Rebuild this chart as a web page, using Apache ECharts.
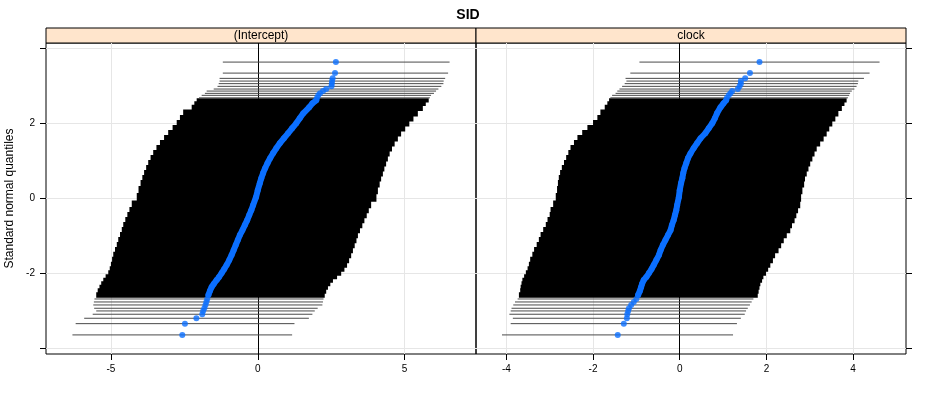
<!DOCTYPE html>
<html><head><meta charset="utf-8">
<script src="https://cdn.jsdelivr.net/npm/echarts@6/dist/echarts.min.js"></script>
<style>html,body{margin:0;padding:0;background:#fff}#c{width:936px;height:396px}</style>
</head><body><div id="c"></div>
<script>
const chartTitle = 'SID';
const panelNames = ['(Intercept)', 'clock'];
const yAxisTitle = 'Standard normal quantiles';
const yTickValues = [-4, -2, 0, 2, 4];
const yLabelValues = [-2, 0, 2];
const interceptTickValues = [-5, 0, 5];
const clockTickValues = [-4, -2, 0, 2, 4];

// standard normal quantiles of the dense body rows (top to bottom)
const bodyQ = [2.621, 2.541, 2.435, 2.275, 2.141, 2.008, 1.875, 1.741, 1.608, 1.475,
  1.341, 1.208, 1.075, 0.941, 0.808, 0.675, 0.541, 0.408, 0.221, 0.035,
  -0.179, -0.312, -0.445, -0.579, -0.712, -0.845, -0.979, -1.112, -1.245, -1.379,
  -1.512, -1.645, -1.779, -1.885, -1.992, -2.099, -2.179, -2.285, -2.365, -2.472, -2.579];
// quantiles of the individually visible extreme rows
const tailQ = [3.643, 3.349, 3.208, 3.136, 3.067, 2.995, 2.923, 2.869, 2.808, 2.755, 2.688,
  -2.685, -2.765, -2.845, -2.933, -3.005, -3.093, -3.200, -3.344, -3.645];

// (Intercept) panel
const interceptBodyLow = [-2.08, -2.16, -2.25, -2.54, -2.65, -2.76, -2.90, -3.05, -3.19, -3.33,
  -3.45, -3.56, -3.65, -3.73, -3.80, -3.87, -3.93, -3.99, -4.06, -4.12,
  -4.29, -4.37, -4.44, -4.51, -4.58, -4.63, -4.69, -4.75, -4.80, -4.86,
  -4.92, -4.96, -5.00, -5.04, -5.09, -5.18, -5.26, -5.33, -5.39, -5.45, -5.50];
const interceptBodyEst = [1.99, 1.86, 1.75, 1.55, 1.43, 1.31, 1.17, 1.03, 0.89, 0.75,
  0.63, 0.52, 0.42, 0.33, 0.25, 0.18, 0.12, 0.07, 0.00, -0.06,
  -0.16, -0.22, -0.29, -0.36, -0.44, -0.52, -0.61, -0.68, -0.75, -0.82,
  -0.89, -0.97, -1.06, -1.14, -1.23, -1.32, -1.40, -1.50, -1.57, -1.63, -1.68];
const interceptBodyHigh = [5.82, 5.72, 5.62, 5.45, 5.30, 5.16, 5.02, 4.88, 4.77, 4.66,
  4.57, 4.49, 4.43, 4.37, 4.31, 4.26, 4.20, 4.15, 4.09, 4.04,
  3.86, 3.78, 3.71, 3.63, 3.56, 3.48, 3.41, 3.36, 3.30, 3.24,
  3.18, 3.11, 3.04, 2.95, 2.84, 2.70, 2.56, 2.47, 2.39, 2.33, 2.28];
const interceptTailLow = [-1.19, -1.19, -1.30, -1.30, -1.33, -1.37, -1.50, -1.74, -1.80, -1.91, -2.00,
  -5.56, -5.58, -5.60, -5.57, -5.50, -5.62, -5.91, -6.20, -6.31];
const interceptTailEst = [2.66, 2.63, 2.55, 2.53, 2.52, 2.51, 2.33, 2.22, 2.12, 2.06, 2.02,
  -1.72, -1.75, -1.78, -1.82, -1.86, -1.89, -2.09, -2.48, -2.57];
const interceptTailHigh = [6.53, 6.48, 6.38, 6.33, 6.32, 6.25, 6.15, 6.07, 6.00, 5.90, 5.86,
  2.24, 2.22, 2.20, 2.04, 1.94, 1.86, 1.74, 1.25, 1.17];

// clock panel
const clockBodyLow = [-1.63, -1.67, -1.73, -1.83, -1.90, -2.00, -2.13, -2.25, -2.36, -2.44,
  -2.52, -2.57, -2.62, -2.67, -2.72, -2.76, -2.79, -2.81, -2.83, -2.86,
  -2.92, -2.98, -3.00, -3.05, -3.09, -3.15, -3.21, -3.25, -3.30, -3.36,
  -3.40, -3.45, -3.48, -3.51, -3.55, -3.59, -3.63, -3.65, -3.67, -3.68, -3.71];
const clockBodyEst = [1.07, 1.01, 0.94, 0.86, 0.81, 0.75, 0.67, 0.59, 0.48, 0.40,
  0.32, 0.25, 0.19, 0.15, 0.11, 0.08, 0.06, 0.03, 0.00, -0.02,
  -0.06, -0.08, -0.11, -0.14, -0.18, -0.21, -0.27, -0.33, -0.39, -0.44,
  -0.48, -0.54, -0.60, -0.65, -0.71, -0.77, -0.83, -0.87, -0.89, -0.92, -0.96];
const clockBodyHigh = [3.85, 3.80, 3.74, 3.66, 3.59, 3.52, 3.45, 3.39, 3.32, 3.24,
  3.16, 3.11, 3.06, 3.01, 2.97, 2.93, 2.89, 2.87, 2.83, 2.80,
  2.78, 2.73, 2.69, 2.65, 2.59, 2.55, 2.47, 2.40, 2.34, 2.28,
  2.20, 2.15, 2.09, 2.04, 1.99, 1.93, 1.90, 1.86, 1.84, 1.82, 1.80];
const clockTailLow = [-0.93, -1.14, -1.25, -1.23, -1.27, -1.33, -1.39, -1.44, -1.48, -1.56, -1.60,
  -3.74, -3.80, -3.84, -3.88, -3.90, -3.93, -3.85, -3.90, -4.10];
const clockTailEst = [1.84, 1.62, 1.51, 1.41, 1.41, 1.38, 1.34, 1.21, 1.17, 1.13, 1.09,
  -1.00, -1.06, -1.12, -1.17, -1.19, -1.21, -1.22, -1.29, -1.43];
const clockTailHigh = [4.61, 4.38, 4.25, 4.12, 4.11, 4.08, 4.03, 3.97, 3.93, 3.91, 3.88,
  1.70, 1.66, 1.62, 1.57, 1.53, 1.50, 1.41, 1.32, 1.23];

const FONT = '"Liberation Sans", Arial, Helvetica, sans-serif';
const BLUE = '#0b6fff';

function bodyRows(low, high) {
  return bodyQ.map((q, i) => [low[i], high[i], q,
    i > 0 ? bodyQ[i - 1] : q, i < bodyQ.length - 1 ? bodyQ[i + 1] : q]);
}
function tailRows(low, high) {
  return tailQ.map((q, i) => [low[i], high[i], q]);
}
function renderBody(params, api) {
  const q = api.value(2);
  const a = api.coord([api.value(0), q]);
  const b = api.coord([api.value(1), q]);
  const yPrev = api.coord([api.value(0), api.value(3)])[1];
  const yNext = api.coord([api.value(0), api.value(4)])[1];
  let up = (a[1] - yPrev) / 2, dn = (yNext - a[1]) / 2;
  if (up <= 0) up = dn;
  if (dn <= 0) dn = up;
  return {type: 'rect', shape: {x: a[0], y: a[1] - up - 0.7, width: b[0] - a[0], height: up + dn + 1.4},
    style: {fill: '#000'}};
}
function renderTail(params, api) {
  const q = api.value(2);
  const a = api.coord([api.value(0), q]);
  const b = api.coord([api.value(1), q]);
  return {type: 'line', shape: {x1: a[0], y1: a[1], x2: b[0], y2: b[1]},
    style: {stroke: '#4a4a4a', lineWidth: 1}};
}
function xAxisFor(gi, min, max, ticks) {
  return {
    type: 'value', gridIndex: gi, min: min, max: max, position: 'bottom',
    axisLine: {show: false, onZero: false},
    axisTick: {show: true, inside: false, length: 6, customValues: ticks, lineStyle: {color: '#000', width: 1}},
    axisLabel: {customValues: ticks, fontSize: 10, color: '#000', margin: 10, fontFamily: FONT},
    splitLine: {show: true, lineStyle: {color: '#e6e6e6', width: 1}}
  };
}
function panelSeries(gi, bLow, bEst, bHigh, tLow, tEst, tHigh) {
  return [
    {type: 'custom', xAxisIndex: gi, yAxisIndex: gi, renderItem: renderBody,
      data: bodyRows(bLow, bHigh), encode: {x: [0, 1], y: 2}, z: 2, silent: true,
      markLine: {silent: true, symbol: ['none', 'none'], label: {show: false}, z: 2,
        lineStyle: {color: '#000', width: 1, type: 'solid'}, data: [{xAxis: 0}]}},
    {type: 'custom', xAxisIndex: gi, yAxisIndex: gi, renderItem: renderTail,
      data: tailRows(tLow, tHigh), encode: {x: [0, 1], y: 2}, z: 2, silent: true},
    {type: 'line', xAxisIndex: gi, yAxisIndex: gi, data: bodyQ.map((q, i) => [bEst[i], q]),
      showSymbol: false, lineStyle: {color: BLUE, width: 6, cap: 'round', join: 'round'}, z: 8, silent: true},
    {type: 'scatter', xAxisIndex: gi, yAxisIndex: gi,
      data: tailQ.map((q, i) => [tEst[i], q]).concat(bodyQ.map((q, i) => [bEst[i], q])),
      symbol: 'circle', symbolSize: 6, itemStyle: {color: BLUE}, z: 9, silent: true}
  ];
}

const chart = echarts.init(document.getElementById('c'), null, {renderer: 'canvas'});
chart.setOption({
  animation: false,
  backgroundColor: '#fff',
  textStyle: {fontFamily: FONT},
  title: {text: chartTitle, left: 'center', top: 3,
    textStyle: {fontSize: 14, fontWeight: 'bold', color: '#000', fontFamily: FONT}},
  grid: [
    {left: 46, top: 43, width: 430, height: 311, show: true, borderColor: '#000', borderWidth: 1, backgroundColor: 'transparent'},
    {left: 476, top: 43, width: 430, height: 311, show: true, borderColor: '#000', borderWidth: 1, backgroundColor: 'transparent'}
  ],
  xAxis: [
    xAxisFor(0, -7.21, 7.43, interceptTickValues),
    xAxisFor(1, -4.70, 5.22, clockTickValues)
  ],
  yAxis: [
    {type: 'value', gridIndex: 0, position: 'left', min: -4.155, max: 4.153,
      axisLine: {show: false, onZero: false},
      axisTick: {show: true, inside: false, length: 6, customValues: yTickValues, lineStyle: {color: '#000'}},
      axisLabel: {customValues: yLabelValues, fontSize: 10, color: '#000', margin: 11, fontFamily: FONT},
      splitLine: {show: true, lineStyle: {color: '#e6e6e6', width: 1}},
      name: yAxisTitle, nameLocation: 'middle', nameGap: 30,
      nameTextStyle: {fontSize: 12, color: '#000', fontFamily: FONT}},
    {type: 'value', gridIndex: 1, position: 'right', min: -4.155, max: 4.153,
      axisLine: {show: false, onZero: false},
      axisTick: {show: true, inside: false, length: 6, customValues: yTickValues, lineStyle: {color: '#000'}},
      axisLabel: {show: false},
      splitLine: {show: true, lineStyle: {color: '#e6e6e6', width: 1}}}
  ],
  graphic: [
    {type: 'rect', shape: {x: 46, y: 28, width: 430, height: 15}, style: {fill: '#ffe5cc', stroke: '#000', lineWidth: 1}},
    {type: 'rect', shape: {x: 476, y: 28, width: 430, height: 15}, style: {fill: '#ffe5cc', stroke: '#000', lineWidth: 1}},
    {type: 'text', x: 261, y: 35.5, style: {text: panelNames[0], align: 'center', verticalAlign: 'middle', fontSize: 12, fontFamily: FONT, fill: '#000'}},
    {type: 'text', x: 691, y: 35.5, style: {text: panelNames[1], align: 'center', verticalAlign: 'middle', fontSize: 12, fontFamily: FONT, fill: '#000'}}
  ],
  series: panelSeries(0, interceptBodyLow, interceptBodyEst, interceptBodyHigh, interceptTailLow, interceptTailEst, interceptTailHigh)
    .concat(panelSeries(1, clockBodyLow, clockBodyEst, clockBodyHigh, clockTailLow, clockTailEst, clockTailHigh))
});
</script></body></html>
